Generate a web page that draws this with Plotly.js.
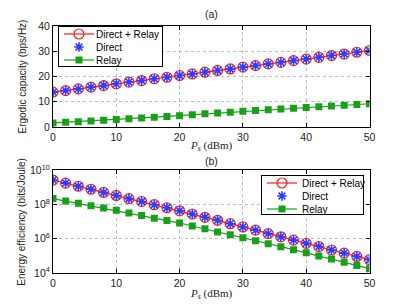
<!DOCTYPE html>
<html><head><meta charset="utf-8">
<script src="https://cdn.plot.ly/plotly-3.0.1.min.js"></script>
<style>html,body{margin:0;padding:0;background:#fff}#chart{width:408px;height:307px}</style>
</head><body><div id="chart"></div>
<script>
// Data
const ps = [0,2,4,6,8,10,12,14,16,18,20,22,24,26,28,30,32,34,36,38,40,42,44,46,48,50];
const capDirectRelay = [13.8,14.4,15.1,15.8,16.4,17.1,17.8,18.4,19.1,19.7,20.4,21.0,21.7,22.4,23.0,23.7,24.3,25.0,25.6,26.3,26.9,27.6,28.3,28.9,29.6,30.3];
const capDirect = [13.8,14.4,15.1,15.8,16.4,17.1,17.8,18.4,19.1,19.7,20.4,21.0,21.7,22.4,23.0,23.7,24.3,25.0,25.6,26.3,26.9,27.6,28.3,28.9,29.6,30.3];
const capRelay = [1.6,1.85,2.1,2.4,2.7,3.0,3.3,3.6,3.9,4.2,4.5,4.85,5.2,5.5,5.85,6.2,6.5,6.8,7.1,7.4,7.7,8.0,8.3,8.6,8.9,9.2];
const eeDirectRelay = [2.69e9,1.78e9,1.17e9,7.8e8,5.1e8,3.4e8,2.2e8,1.5e8,9.8e7,6.5e7,4.3e7,2.8e7,1.8e7,1.2e7,7.6e6,4.9e6,3.2e6,2.0e6,1.3e6,8.3e5,5.4e5,3.5e5,2.2e5,1.45e5,9.3e4,6.0e4];
const eeDirect = [2.69e9,1.78e9,1.17e9,7.8e8,5.1e8,3.4e8,2.2e8,1.5e8,9.8e7,6.5e7,4.3e7,2.8e7,1.8e7,1.2e7,7.6e6,4.9e6,3.2e6,2.0e6,1.3e6,8.3e5,5.4e5,3.5e5,2.2e5,1.45e5,9.3e4,6.0e4];
const eeRelay = [2.24e8,1.62e8,1.17e8,8.5e7,6.3e7,4.6e7,3.2e7,2.3e7,1.6e7,1.17e7,8.3e6,5.6e6,3.8e6,2.5e6,1.7e6,1.15e6,7.6e5,5.1e5,3.4e5,2.3e5,1.5e5,1.0e5,6.5e4,4.2e4,2.75e4,1.8e4];
const names = ['Direct + Relay','Direct','Relay'];
const xTicks = [0,10,20,30,40,50];
const capTicks = [0,10,20,30,40];
const eeTickVals = [1e4,1e6,1e8,1e10];
const eeTickText = ['10<sup>4</sup>','10<sup>6</sup>','10<sup>8</sup>','10<sup>10</sup>'];

const RED='#ff1a1a', BLUE='#2a3cff', GREEN='#18a018';
function traces(xa, ya, leg, a, b, c){
  return [
    {x:ps,y:a,xaxis:xa,yaxis:ya,legend:leg,name:names[0],mode:'lines+markers',
     line:{color:RED,width:1.2},marker:{symbol:'circle-open',size:10,color:RED,line:{width:1.2,color:RED}}},
    {x:ps,y:b,xaxis:xa,yaxis:ya,legend:leg,name:names[1],mode:'markers',
     marker:{symbol:'asterisk-open',size:8,color:BLUE,line:{width:1.6,color:BLUE}}},
    {x:ps,y:c,xaxis:xa,yaxis:ya,legend:leg,name:names[2],mode:'lines+markers',
     line:{color:GREEN,width:1.2},marker:{symbol:'square',size:7,color:GREEN}}
  ];
}
const data = [].concat(
  traces('x','y','legend',capDirectRelay,capDirect,capRelay),
  traces('x2','y2','legend2',eeDirectRelay,eeDirect,eeRelay)
);
const W=408,H=307;
const px=v=>v/W, py=v=>1-v/H;
const tickFont={family:'Liberation Sans, Arial, sans-serif',size:10.5,color:'#222'};
const axBase={showline:true,linecolor:'#000',linewidth:1,mirror:'ticks',ticks:'inside',ticklen:4,tickcolor:'#000',
  showgrid:true,gridcolor:'#bdbdbd',griddash:'dot',gridwidth:1,zeroline:false,tickfont:tickFont,automargin:false};
const legFont={family:'Liberation Sans, Arial, sans-serif',size:10,color:'#000'};
const ann=(text,x,y,font,extra)=>Object.assign({text,x:px(x),y:py(y),xref:'paper',yref:'paper',showarrow:false,
  xanchor:'center',yanchor:'middle',font},extra||{});
const sansF={family:'Liberation Sans, Arial',size:10.5,color:'#222'};
const serifF={family:'Liberation Serif, serif',size:11,color:'#222'};
const ytF={family:'Liberation Sans, Arial',size:10,color:'#222'};
const layout={
  width:W,height:H,margin:{l:0,r:0,t:0,b:0},paper_bgcolor:'#fff',plot_bgcolor:'#fff',showlegend:true,
  xaxis:Object.assign({},axBase,{domain:[px(53),px(369.5)],range:[0,50],tickvals:xTicks,anchor:'y'}),
  yaxis:Object.assign({},axBase,{domain:[py(127),py(26)],range:[0,40],tickvals:capTicks,anchor:'x'}),
  xaxis2:Object.assign({},axBase,{domain:[px(53),px(369.5)],range:[0,50],tickvals:xTicks,anchor:'y2'}),
  yaxis2:Object.assign({},axBase,{domain:[py(273),py(170.3)],type:'log',range:[4,10],tickvals:eeTickVals,ticktext:eeTickText,anchor:'x2'}),
  legend:{x:px(58),y:py(26),xanchor:'left',yanchor:'top',bgcolor:'#fff',bordercolor:'#000',borderwidth:1,font:legFont,tracegroupgap:0},
  legend2:{x:px(363),y:py(175),xanchor:'right',yanchor:'top',bgcolor:'#fff',bordercolor:'#000',borderwidth:1,font:legFont,tracegroupgap:0},
  annotations:[
    ann('(a)',211,14,sansF),
    ann('(b)',211,161,sansF),
    ann('<i>P</i><sub><i>s</i></sub> (dBm)',211,146,serifF),
    ann('<i>P</i><sub><i>s</i></sub> (dBm)',211,294,serifF),
    ann('Ergodic capacity (bps/Hz)',22,76.5,ytF,{textangle:-90}),
    ann('Energy efficiency (bits/Joule)',22,221.7,ytF,{textangle:-90})
  ]
};
// legend box placement (left, top, width, height) and entry spacing
const legBoxes={legend:[58,26,104,40],legend2:[261,175,102,39]};
const legStep=13, legFirst=8, legTextX=37;
Plotly.newPlot('chart',data,layout,{displayModeBar:false,staticPlot:true}).then(gd=>{
  Object.keys(legBoxes).forEach(cls=>{
    const lg=gd.querySelector('g.'+cls); if(!lg) return;
    const b=legBoxes[cls];
    lg.setAttribute('transform',`translate(${b[0]},${b[1]})`);
    const bg=lg.querySelector('rect.bg');
    if(bg){bg.setAttribute('height',b[3]);bg.setAttribute('width',b[2]);}
    lg.querySelectorAll('g.traces').forEach((t,i)=>{
      t.setAttribute('transform',`translate(1,${legFirst+legStep*i})`);
      const tx=t.querySelector('text.legendtext');
      if(tx){tx.setAttribute('x',legTextX);}
    });
  });
});
</script></body></html>
